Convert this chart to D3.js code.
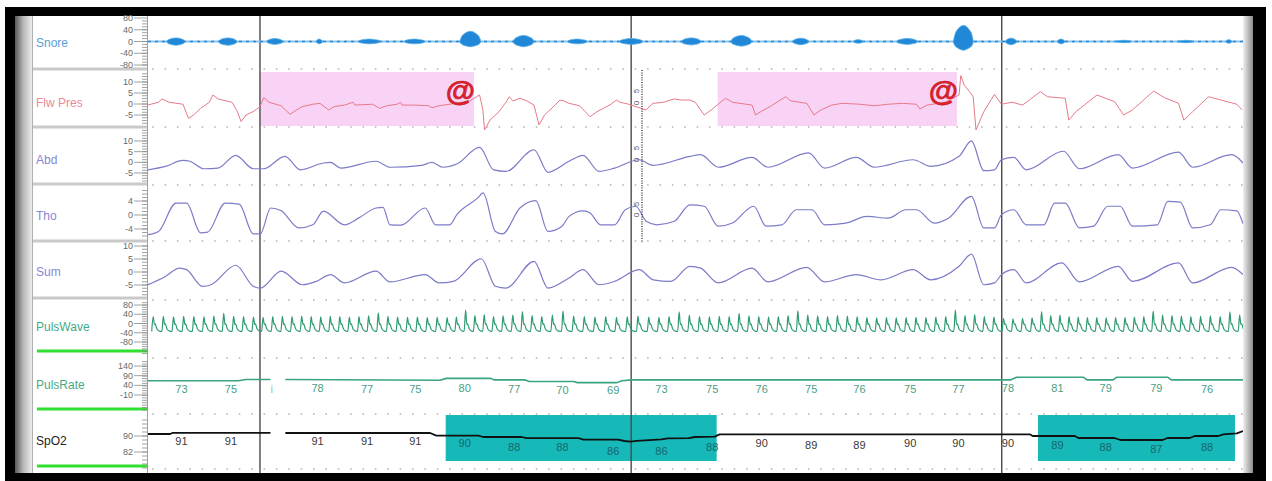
<!DOCTYPE html>
<html><head><meta charset="utf-8">
<script src="https://cdn.jsdelivr.net/npm/d3@7/dist/d3.min.js"></script>
<style>
html,body{margin:0;padding:0;background:#fff;}
svg{display:block;font-family:"Liberation Sans",Arial,sans-serif;}
</style></head>
<body>
<svg id="chart" width="1272" height="481"></svg>
<script>
// ================= DATA =================
const channelLabels = ["Snore","Flw Pres","Abd","Tho","Sum","PulsWave","PulsRate","SpO2"];
const snoreTicks = [80,40,0,-40,-80];
const flwTicks = [10,5,0,-5];
const abdTicks = [10,5,0,-5];
const thoTicks = [4,0,-4];
const sumTicks = [10,5,0,-5];
const pwTicks = [80,40,0,-40,-80];
const prTicks = [140,90,40,-10];
const spo2Ticks = [90,82];

// time in seconds from the left edge of the trace area
const epochMarks = [9.05, 39.05, 69.0];
const flwEvents = [[9.05, 26.35],[46.04, 65.38]];        // pink hypopnea events with "@"
const spo2Events = [[24.06, 45.96],[71.93, 87.85]];      // teal desaturation events

// snore bursts: [start, end, upward amplitude, downward amplitude]
const snoreBursts = [[1.5,3.0,12,13],[5.7,7.2,12,13],[9.6,10.9,10,10],[13.6,14.1,8,8],[17.0,18.8,8,8],
 [20.7,22.4,8,8],[25.2,26.9,34,18],[29.5,31.2,20,18],[33.9,35.5,8,8],[38.1,40.0,10,10],[43.1,44.7,12,12],
 [47.1,48.8,20,16],[52.1,53.4,11,11],[57.0,57.8,6,6],[60.5,62.2,10,10],[65.1,66.7,54,30],[69.3,70.2,11,11],
 [73.5,74.1,8,8],[78.2,79.5,4,4],[83.2,84.5,4,4],[87.1,87.6,6,6]];

const flwPres = [[0,-0.45],[0.85,0.8],[1.13,2.3],[1.7,0.8],[2.83,-0.1],[3.27,-6.5],[3.69,-5],[4.25,-2],[4.96,0.8],[5.25,4.1],
 [5.66,2.3],[6.79,0.8],[7.23,-3.5],[7.52,-8],[7.92,-5],[8.49,-3.5],[9.05,-1.2],[9.36,2.9],[9.78,0.8],[10.75,-0.8],
 [11.48,-4.7],[11.88,-3.2],[12.45,-1.2],[13.34,-0.1],[13.9,0.3],[14.6,-2.7],[15.03,-1.2],[15.88,-0.5],[16.57,0.8],[16.73,-0.5],
 [18.15,-0.1],[18.72,-2],[19.28,-0.8],[20.12,-0.1],[20.42,0.8],[20.53,-0.5],[21.55,-0.5],[22.69,-0.8],[22.95,-1.7],[23.52,-0.8],
 [24.39,-0.1],[26.0,1.4],[26.8,4.1],[27.07,-2.7],[27.2,-11.8],[27.64,-7.3],[28.37,-3.5],[28.93,0.8],[29.2,3.3],[29.5,1.4],
 [30.07,2.6],[30.63,1.4],[31.2,-0.5],[31.6,-9.5],[32.05,-5],[32.9,-0.5],[33.3,1.8],[33.6,1.4],[34.03,0.3],[34.88,-0.8],
 [35.73,-5.8],[36.29,-3.5],[37.42,-0.1],[37.86,1.8],[38.15,0.8],[38.85,-0.1],[40.25,-2.7],[40.81,0.3],[41.69,0.8],[42.51,2.3],
 [43.08,1.8],[43.8,1.8],[44.23,0.8],[44.95,-5],[45.52,-2.7],[46.67,2.6],[47.24,0.8],[48.82,-0.5],[49.1,-5],[49.53,-3.5],
 [50.38,-0.8],[51.53,3.3],[51.96,1.4],[53.25,0.3],[53.82,-5],[54.39,-2.7],[55.25,-0.5],[56.1,0.3],[57.54,-0.1],[58.68,-0.8],
 [59.82,-0.1],[60.97,0.3],[62.11,-0.1],[62.39,-2.3],[62.97,-0.5],[64.41,0.8],[65.55,4.1],[65.69,12.9],[65.97,8.6],[66.4,5.6],
 [66.69,3.3],[66.92,-11.8],[67.55,-3.5],[68.41,4.4],[68.98,-0.1],[69.83,0.8],[70.69,-0.5],[72.12,5.6],[72.7,3.3],[74.13,2.6],
 [74.42,-7.3],[74.99,-3.5],[76.7,4.1],[78.14,1],[78.85,-5],[79.57,-2.7],[81.28,5.9],[82.14,2.9],[83.29,0.3],[83.72,-7.3],
 [84.43,-3.5],[85.72,3.3],[86.72,1.8],[88.0,-0.1],[88.43,-2.7]];

const abd = [[0,-3.5],[1.41,-1.9],[2.83,0.9],[3.39,0.5],[4.53,-3],[5.66,-2.7],[7.09,3.3],[8.51,-3],[9.36,-3],[11.06,2.8],
 [12.33,-3.5],[14.18,-0.3],[14.75,0],[15.6,-2.7],[18.43,0.5],[19.56,-2.3],[22.12,-1.4],[22.95,0],[23.82,-2.3],[24.96,-0.8],
 [26.8,7],[27.93,-3.5],[28.93,-4.2],[31.2,5.9],[32.33,-4.7],[34.03,0.5],[35.16,3.3],[36.44,-4.2],[37.72,-2.7],[39.68,1.2],
 [40.81,-1.4],[43.8,2.8],[44.66,3.6],[46.09,-2.3],[48.82,2.3],[50.1,-2.3],[53.39,4.4],[54.68,-2.7],[57.25,2.3],[58.68,-2.3],
 [61.83,1.2],[63.26,-1.9],[65.55,2.8],[66.55,10.1],[67.55,-3.9],[68.41,-3.5],[68.98,1.2],[69.98,2.3],[70.98,-3.5],[73.99,5.2],
 [75.28,-3],[78.42,3.6],[79.57,-2.7],[83.29,4.8],[84.43,-2.3],[87.58,3.6],[88.5,-0.3]];

const tho = [[0,-5.6],[0.85,-4.7],[2.26,3.4],[3.12,3.4],[4.25,-5.1],[4.82,-4.9],[6.24,3.4],[7.37,3.1],[8.51,-5.4],[9.08,-5.4],
 [9.92,2],[10.77,1.2],[12.2,-3.7],[13.33,-2.8],[14.18,1.1],[15.88,-2.8],[17.01,-0.9],[18.43,2],[18.99,2.2],[19.56,-2.8],
 [20.42,-2.9],[22.4,2],[23.25,-2.8],[24.39,-2.8],[24.96,0.1],[26.66,4.9],[27.08,6.3],[28.08,-4.7],[28.64,-5.4],[30.06,2],
 [31.34,4.1],[32.33,-4.7],[33.46,-3.2],[34.03,-0.4],[35.16,1.2],[35.73,0.6],[36.58,-2.8],[37.72,-2.8],[38.57,1.5],[39.42,2.5],
 [40.27,-1.8],[41.12,-2.8],[42.54,-1.8],[43.8,2.9],[44.95,2.5],[46.09,-3.2],[47.24,-2.3],[48.95,2.5],[49.96,-3.2],[51.24,-2.8],
 [52.39,1.5],[53.67,1.5],[54.68,-2.8],[56.4,-2.3],[58.11,-0.4],[59.82,-0.9],[61.26,1.5],[62.11,1.5],[63.54,-2.3],[64.69,-0.9],
 [66.55,5.3],[67.55,-3.7],[68.41,-3.7],[68.98,0.1],[69.98,1.5],[70.98,-2.8],[72.41,-2.8],[73.27,3.4],[74.13,3.4],[75.28,-3.7],
 [76.42,-3.2],[77.56,2.5],[78.57,2.5],[79.57,-3.2],[81.57,-2.8],[82.43,3.9],[83.43,3.7],[84.43,-3.7],[85.86,-2.8],[86.72,1.5],
 [88.0,1.2],[88.5,-2.5]];

const sum = [[0,-4.9],[1.41,-1.7],[2.55,1.5],[3.12,0.9],[4.4,-5.5],[5.1,-4.9],[7.09,2.6],[8.51,-5.5],[9.08,-6.2],[10.77,0.3],
 [12.48,-4.9],[13.61,-3.6],[14.75,-1],[15.88,-4.2],[18.43,0.3],[19.56,-3.8],[22.4,-1],[23.53,-4.2],[24.68,-3.6],[26.94,5.1],
 [28.08,-5.5],[28.93,-6.2],[31.2,4.1],[32.33,-6.2],[34.03,-2.3],[35.16,0.9],[36.44,-4.9],[37.72,-3.6],[39.7,0.9],[40.84,-3],
 [42.25,-3.6],[43.8,2.2],[44.66,1.5],[46.09,-4.2],[48.82,1.5],[50.1,-3.8],[53.25,1.8],[54.68,-3.8],[57.25,-1],[59.26,-3],
 [61.83,0.9],[63.26,-3],[65.55,2.2],[66.55,6.9],[67.55,-4.9],[68.41,-4.2],[68.98,-1],[69.98,0.9],[70.98,-4.2],[73.85,3.5],
 [75.28,-3.8],[78.42,2.2],[79.57,-3.6],[83.29,3.5],[84.43,-4.2],[87.58,1.8],[88.5,-1]];

// pulse wave: beat onset times and peak heights
const pulseBeats = [0.3,1.12,1.94,2.76,3.58,4.4,5.2,6.0,6.8,7.6,8.4,9.18,9.96,10.74,11.52,12.3,13.07,13.84,14.61,15.38,
 16.15,16.93,17.71,18.49,19.27,20.05,20.85,21.65,22.45,23.25,24.05,24.8,25.55,26.3,27.05,27.8,28.58,29.36,30.14,30.92,
 31.7,32.56,33.42,34.28,35.14,36.0,36.87,37.74,38.61,39.48,40.35,41.17,41.99,42.81,43.63,44.45,45.25,46.05,46.85,47.65,
 48.45,49.24,50.03,50.82,51.61,52.4,53.2,54.0,54.8,55.6,56.4,57.19,57.98,58.77,59.56,60.35,61.15,61.95,62.75,63.55,
 64.35,65.13,65.91,66.69,67.47,68.25,69.02,69.79,70.56,71.33,72.1,72.84,73.58,74.32,75.06,75.8,76.56,77.32,78.08,78.84,
 79.6,80.36,81.12,81.88,82.64,83.4,84.16,84.95,85.74,86.53,87.32,88.11];
const pulsePeaks = [30,31,29,31,30,29,32,44,31,30,28,27,30,31,30,32,30,29,31,30,
 28,30,33,46,31,28,27,28,26,27,26,28,58,34,38,30,33,36,52,34,
 30,36,54,32,30,28,30,27,29,32,28,27,30,50,36,30,29,31,30,44,
 33,30,28,30,34,55,36,33,30,34,32,29,25,24,26,24,25,27,26,28,
 30,58,34,38,30,28,22,20,22,24,52,34,36,30,28,26,25,24,26,25,
 28,30,54,36,34,32,30,31,33,30,50,36];

const pulseRateTrace = [[0,64],[7.3,64],[7.9,70],[9.9,70],[9.9,null],[11.1,null],[11.1,70],[23.6,66],[24.1,76],[27.7,76],
 [28.0,68],[30.5,68],[30.8,60],[34.4,60],[34.7,54],[37.9,54],[38.3,64],[39.1,68],[69.7,68],[70.2,82],[75.6,82],[75.9,68],
 [78.0,68],[78.3,82],[82.4,82],[82.7,68],[88.5,68]];
const spo2Trace = [[0,91],[1.8,91],[2.0,91.6],[9.9,91.6],[9.9,null],[11.1,null],[11.1,91.5],[22.8,91.5],[23.3,90.2],[26.7,90.2],
 [27.1,89.5],[30.2,89.5],[30.6,88.9],[34.8,88.9],[35.2,88.2],[38.0,88.2],[38.5,87.5],[39.0,87.2],[39.5,87.6],[41.5,88.3],
 [42.0,88.8],[43.7,88.9],[44.2,89.5],[45.8,89.7],[46.2,90.8],[71.3,90.8],[71.5,90],[74.9,90],[75.2,89],[78.1,89],
 [78.6,88],[82.0,88],[82.4,89],[84.2,89],[84.6,90],[86.5,90],[86.9,90.8],[88.0,91.3],[88.5,92.5]];

const pulseRateLabelT = [2.7,6.7,10.0,13.7,17.7,21.6,25.6,29.6,33.5,37.6,41.5,45.6,49.6,53.6,57.5,61.6,65.5,69.5,73.5,77.4,81.5,85.6];
const pulseRateLabels = ["73","75","i","78","77","75","80","77","70","69","73","75","76","75","76","75","77","78","81","79","79","76"];
const spo2LabelT = [2.7,6.7,13.7,17.7,21.6,25.6,29.6,33.5,37.6,41.5,45.6,49.6,53.6,57.5,61.6,65.5,69.5,73.5,77.4,81.5,85.6];
const spo2Labels = [91,91,91,91,91,90,88,88,86,86,88,90,89,89,90,90,90,89,88,87,88];

const overlayScaleLabels = [["5","0"],["5","0"],["5","0"]];

// ================= DRAWING =================
const svg = d3.select('#chart');
const X0 = 148, X1 = 1243;
const x = d3.scaleLinear().domain([0, 88.5]).range([X0, X1]);

const defs = svg.append('defs');
const gl = defs.append('linearGradient').attr('id','shL').attr('x1','0').attr('x2','1').attr('y1','0').attr('y2','0');
gl.append('stop').attr('offset','0').attr('stop-color','#5a5a5a');
gl.append('stop').attr('offset','0.5').attr('stop-color','#b8b8b8');
gl.append('stop').attr('offset','1').attr('stop-color','#ececec');
const gr = defs.append('linearGradient').attr('id','shR').attr('x1','0').attr('x2','1').attr('y1','0').attr('y2','0');
gr.append('stop').attr('offset','0').attr('stop-color','#f0f0f0');
gr.append('stop').attr('offset','1').attr('stop-color','#8c8c8c');
defs.append('clipPath').attr('id','plotClip').append('rect')
  .attr('x',X0).attr('y',16).attr('width',X1-X0).attr('height',457);

// frame
svg.append('rect').attr('width',1272).attr('height',481).attr('fill','#fff');
svg.append('rect').attr('x',5).attr('y',7).attr('width',1261).attr('height',474).attr('fill','#000');
svg.append('rect').attr('x',15).attr('y',16).attr('width',1238).attr('height',457).attr('fill','#fff');
svg.append('rect').attr('x',15).attr('y',16).attr('width',17).attr('height',457).attr('fill','url(#shL)');
svg.append('rect').attr('x',X1).attr('y',16).attr('width',10).attr('height',457).attr('fill','url(#shR)');
svg.append('line').attr('x1',32.5).attr('x2',32.5).attr('y1',16).attr('y2',473).attr('stroke','#b0b0b0');

// channel layout
const layout = [
 {ticks:snoreTicks, domain:[-80,80], range:[65,18],  top:17,  bottom:68,  labelY:43,  color:'#5b9fd5'},
 {ticks:flwTicks,   domain:[-5,10],  range:[115,82], top:69,  bottom:126, labelY:103, color:'#ea8a98'},
 {ticks:abdTicks,   domain:[-5,10],  range:[173,141],top:127, bottom:184, labelY:160, color:'#8787d6'},
 {ticks:thoTicks,   domain:[-4,4],   range:[229,201],top:185, bottom:240, labelY:216, color:'#8787d6'},
 {ticks:sumTicks,   domain:[-5,10],  range:[285,246],top:241, bottom:298, labelY:272, color:'#8787d6'},
 {ticks:pwTicks,    domain:[-80,80], range:[342,305],top:300, bottom:356, labelY:327, color:'#45a987'},
 {ticks:prTicks,    domain:[-10,140],range:[395,366],top:358, bottom:413, labelY:385, color:'#45a987'},
 {ticks:spo2Ticks,  domain:[82,90],  range:[452,436],top:415, bottom:471, labelY:441, color:'#222'}
];
layout.forEach((c,i) => { c.label = channelLabels[i]; c.y = d3.scaleLinear().domain(c.domain).range(c.range); });

// label column
const lab = svg.append('g');
[69,127,184,241,298].forEach(yy => {
  lab.append('rect').attr('x',33).attr('y',yy-1.5).attr('width',114).attr('height',3).attr('fill','#c9c9c9');
});
[351,409,466].forEach(yy => {
  lab.append('rect').attr('x',37).attr('y',yy-1.5).attr('width',110).attr('height',3).attr('fill','#2fe02f');
});
layout.forEach(c => {
  lab.append('text').attr('x',36).attr('y',c.labelY+4).attr('font-size',12).attr('fill',c.color).text(c.label);
});

// rulers
const rul = svg.append('g').attr('stroke','#8a8a8a').attr('stroke-width',0.8);
rul.append('line').attr('x1',147.5).attr('x2',147.5).attr('y1',16).attr('y2',473);
layout.forEach(c => {
  const step = Math.abs(c.ticks[0]-c.ticks[1])/4;
  const vA = c.y.invert(c.bottom-1), vB = c.y.invert(c.top+2);
  const minors = d3.range(Math.ceil(vA/step)*step, vB, step);
  minors.forEach(v => rul.append('line').attr('x1',142).attr('x2',147.5).attr('y1',c.y(v)).attr('y2',c.y(v)));
  c.ticks.forEach(v => {
    rul.append('line').attr('x1',134).attr('x2',147.5).attr('y1',c.y(v)).attr('y2',c.y(v));
    svg.append('text').attr('x',133).attr('y',c.y(v)).attr('dy','0.35em').attr('text-anchor','end')
      .attr('font-size',9).attr('fill','#6a6a6a').text(v);
  });
});

// plot area
const plot = svg.append('g').attr('clip-path','url(#plotClip)');

// dotted grid lines
const secs = d3.range(0.4, 88.5, 1);
[69,127,185,241,300,358,414,469].forEach(yy => {
  plot.append('g').selectAll('rect').data(secs).join('rect')
    .attr('x',d=>x(d)-0.75).attr('y',yy-1).attr('width',1.5).attr('height',2).attr('fill','#c4c4c4');
});

// events
const cS = layout[7];
plot.selectAll('rect.flwEv').data(flwEvents).join('rect').attr('class','flwEv')
  .attr('x',d=>x(d[0])).attr('width',d=>x(d[1])-x(d[0])).attr('y',72).attr('height',54).attr('fill','#f9d3f5');
plot.selectAll('rect.spEv').data(spo2Events).join('rect').attr('class','spEv')
  .attr('x',d=>x(d[0])).attr('width',d=>x(d[1])-x(d[0])).attr('y',415).attr('height',46).attr('fill','#17b8b8');

// epoch lines
plot.selectAll('line.ep').data(epochMarks).join('line').attr('class','ep')
  .attr('x1',d=>x(d)).attr('x2',d=>x(d)).attr('y1',16).attr('y2',473).attr('stroke','#4a4a4a').attr('stroke-width',1.4);

// snore
const cSn = layout[0];
plot.append('line').attr('x1',X0).attr('x2',X1).attr('y1',cSn.y(0)).attr('y2',cSn.y(0))
  .attr('stroke','#86c4ee').attr('stroke-width',2);
plot.append('line').attr('x1',X0).attr('x2',X1).attr('y1',cSn.y(0)).attr('y2',cSn.y(0))
  .attr('stroke','#2a86d2').attr('stroke-width',1.4).attr('stroke-dasharray','3 4');
const blob = d3.line().x(d=>x(d[0])).y(d=>cSn.y(d[1])).curve(d3.curveCardinalClosed.tension(0.3));
snoreBursts.forEach(([t0,t1,up,dn]) => {
  const w = t1-t0;
  const pts = [[t0,0],[t0+0.12*w,up*0.6],[t0+0.35*w,up*0.95],[t0+0.6*w,up],[t1-0.12*w,up*0.6],[t1,0],
               [t1-0.12*w,-dn*0.6],[t0+0.5*w,-dn],[t0+0.12*w,-dn*0.6]];
  plot.append('path').attr('d',blob(pts)).attr('fill','#2088d6').attr('stroke','#5aaee8').attr('stroke-width',0.8);
});

// line traces
function trace(data, c, color, width, curve){
  const ln = d3.line().defined(d=>d[1]!==null).x(d=>x(d[0])).y(d=>c.y(d[1])).curve(curve||d3.curveLinear);
  plot.append('path').attr('d',ln(data)).attr('fill','none').attr('stroke',color).attr('stroke-width',width)
    .attr('stroke-linejoin','round');
}
trace(flwPres, layout[1], '#e67a88', 1);
trace(abd, layout[2], '#7b7bc9', 1.2, d3.curveMonotoneX);
trace(tho, layout[3], '#7b7bc9', 1.2, d3.curveMonotoneX);
trace(sum, layout[4], '#7b7bc9', 1.2, d3.curveMonotoneX);

// pulse wave from beats
const pw = [];
pulseBeats.forEach((tb,i) => {
  const a = pulsePeaks[i];
  pw.push([tb,-34],[tb+0.12,a],[tb+0.22,-4],[tb+0.28,-2],[tb+0.42,-24],[tb+0.62,-33]);
});
trace(pw, layout[5], '#2f9c70', 1.2, d3.curveMonotoneX);

trace(pulseRateTrace, layout[6], '#3aa57c', 1.6);
trace(spo2Trace, layout[7], '#111', 1.8);

// "@" markers
plot.selectAll('text.at').data(flwEvents).join('text').attr('class','at')
  .attr('x',d=>x(d[1])+1).attr('y',101).attr('text-anchor','end').attr('font-size',30).attr('font-weight','bold')
  .attr('fill','#e3222c').attr('stroke','#b8141c').attr('stroke-width',0.6).text('@');

// numeric labels
const cP = layout[6];
pulseRateLabels.forEach((s,i) => {
  const v = isNaN(+s) ? 75 : +s;
  plot.append('text').attr('x',x(pulseRateLabelT[i])).attr('y',cP.y(v)+14.5).attr('text-anchor','middle')
    .attr('font-size',11).attr('fill', isNaN(+s) ? '#8cc8b0' : '#4a9e84').text(s);
});
spo2Labels.forEach((v,i) => {
  const t = spo2LabelT[i];
  const inside = spo2Events.some(e => t>=e[0] && t<=e[1]);
  plot.append('text').attr('x',x(t)).attr('y',cS.y(v)+11).attr('text-anchor','middle')
    .attr('font-size',11).attr('fill', inside ? '#18666c' : '#3a3a3a').text(v);
});

// overlay amplitude scale
const ox = 642;
svg.append('line').attr('x1',ox).attr('x2',ox).attr('y1',70).attr('y2',243)
  .attr('stroke','#222').attr('stroke-width',1.3).attr('stroke-dasharray','1 1.4');
[[91,103],[148,160],[204,215]].forEach((pair,i) => {
  pair.forEach((yy,j) => {
    svg.append('text').attr('transform',`translate(${ox-3},${yy}) rotate(-90)`).attr('text-anchor','middle')
      .attr('font-size',8).attr('fill','#555').text(overlayScaleLabels[i][j]);
  });
});
</script>
</body></html>
